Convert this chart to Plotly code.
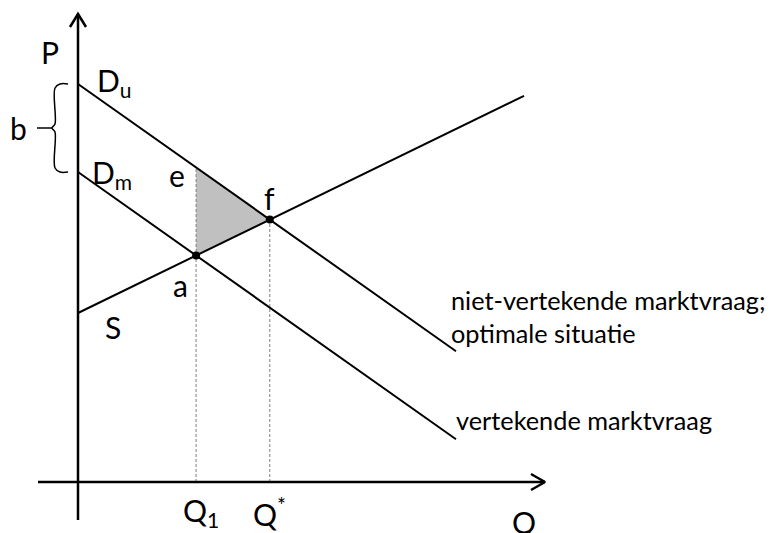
import numpy as np
import plotly.graph_objects as go

# model: P = intercept + slope*Q (units ~ px of the original sketch)
du_intercept = 398   # D_u  niet-vertekende marktvraag
dm_intercept = 310   # D_m  vertekende marktvraag
d_slope = -0.707
s_intercept = 169    # S
s_slope = 0.487
q_end_d = 378
q_end_s = 446

# curve labels
curve_labels = ["niet-vertekende marktvraag;<br>optimale situatie", "vertekende marktvraag"]
point_labels = ["e", "f", "a"]

FONT = "Lato"
LBL = 30
TXT = 25.3

def demand(b0, q):
    return b0 + d_slope*q

def supply(q):
    return s_intercept + s_slope*q

# evenwichten
q1 = (dm_intercept - s_intercept)/(s_slope - d_slope)     # a
qstar = (du_intercept - s_intercept)/(s_slope - d_slope)  # f
p_a = supply(q1)
p_f = supply(qstar)
p_e = demand(du_intercept, q1)

fig = go.Figure()

# gearceerde driehoek e-f-a
fig.add_trace(go.Scatter(x=[q1, qstar, q1, q1], y=[p_e, p_f, p_a, p_e], fill="toself",
                         fillcolor="#c0c0c0", line=dict(width=0), mode="lines", hoverinfo="skip"))

# gestippelde lijnen
for q, p in [(q1, p_e), (qstar, p_f)]:
    fig.add_trace(go.Scatter(x=[q, q], y=[0, p], mode="lines",
                             line=dict(color="#808080", width=1, dash="3px,2px"), hoverinfo="skip"))

# curves
qd = np.array([0, q_end_d])
fig.add_trace(go.Scatter(x=qd, y=demand(du_intercept, qd), mode="lines", line=dict(color="black", width=2)))
fig.add_trace(go.Scatter(x=qd, y=demand(dm_intercept, qd), mode="lines", line=dict(color="black", width=2)))
qs = np.array([0, q_end_s])
fig.add_trace(go.Scatter(x=qs, y=supply(qs), mode="lines", line=dict(color="black", width=2)))

# punten a en f
fig.add_trace(go.Scatter(x=[q1, qstar], y=[p_a, p_f], mode="markers",
                         marker=dict(color="black", size=8)))

# assen met open pijlpunten
fig.add_trace(go.Scatter(x=[0, 0, None, -8, 0, 8], y=[-38, 468, None, 455, 468, 455], mode="lines",
                         line=dict(color="black", width=2.5)))
fig.add_trace(go.Scatter(x=[-40, 467, None, 453, 467, 453], y=[0, 0, None, 8, 0, -8], mode="lines",
                         line=dict(color="black", width=2.5)))

# accolade b tussen de twee asafsneden
top, bot = du_intercept, dm_intercept
mid = (top + bot)/2
bx = np.array([-10, -18, -23, -23, -26, -23, -23, -18, -10])
by = np.array([top, top, top-4, mid+4, mid, mid-4, bot+4, bot, bot])
fig.add_trace(go.Scatter(x=bx, y=by, mode="lines", line=dict(color="black", width=1.5, shape="spline")))
fig.add_trace(go.Scatter(x=[-41, -26], y=[mid, mid], mode="lines", line=dict(color="black", width=1.5)))

def label(x, y, t, size=LBL, xa="center"):
    fig.add_annotation(x=x, y=y, text=t, showarrow=False, xanchor=xa, yanchor="middle",
                       font=dict(family=FONT, size=size, color="black"))

label(-28, 430, "P")
label(-60, mid, "b")
label(17, du_intercept + 2, "D<sub>u</sub>", xa="left")
label(12, dm_intercept - 2, "D<sub>m</sub>", xa="left")
label(q1 - 19, p_e - 8, point_labels[0])
label(qstar, p_f + 22, point_labels[1])
label(q1 - 16, p_a - 30, point_labels[2])
label(35, 155, "S")
label(q1 - 15, -30, "Q<sub>1</sub>", xa="left")
label(qstar - 19, -30, "Q<sup>*</sup>", xa="left")
label(446, -40, "Q")
label(371, 166, curve_labels[0], size=TXT, xa="left")
label(376, 62, curve_labels[1], size=TXT, xa="left")

# pagina heeft 8px body-marge: bereik daarvoor gecorrigeerd
fig.update_layout(width=779, height=533, margin=dict(l=0, r=0, t=0, b=0),
                  plot_bgcolor="white", paper_bgcolor="white", showlegend=False,
                  xaxis=dict(range=[-70, 709], visible=False, fixedrange=True),
                  yaxis=dict(range=[-59, 474], visible=False, fixedrange=True))
fig.update_annotations(align="left")

fig.write_html("out.html")
